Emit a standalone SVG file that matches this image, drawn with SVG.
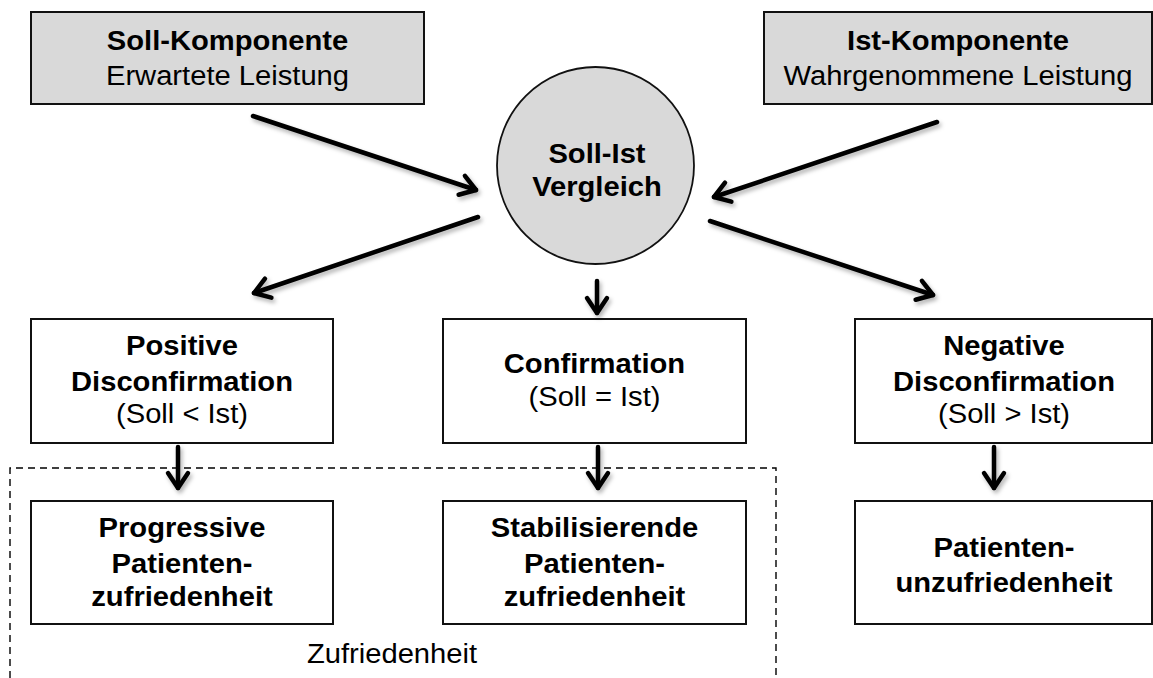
<svg xmlns="http://www.w3.org/2000/svg" width="1153" height="678" viewBox="0 0 1153 678">
<style>
  text { font-family: "Liberation Sans", Arial, sans-serif; font-size: 27px; fill: #000; text-anchor: middle; }
  .b { font-weight: bold; }
  .box { fill: #fff; stroke: #111; stroke-width: 2; }
  .gray { fill: #d9d9d9; stroke: #111; stroke-width: 2; }
  .arrow { fill: none; stroke: #000; stroke-width: 4.5; stroke-linecap: round; marker-end: url(#head); }
  .dash { fill: none; stroke: #000; stroke-width: 1.4; stroke-dasharray: 7 5; }
</style>
<defs>
  <marker id="head" markerUnits="userSpaceOnUse" viewBox="-20 -14 26 28" refX="0" refY="0" markerWidth="26" markerHeight="28" orient="auto" overflow="visible">
    <path d="M-15,-10 L0,0 L-15,10" fill="none" stroke="#000" stroke-width="4.5" stroke-linecap="round" stroke-linejoin="round"/>
  </marker>
  <filter id="sh" x="-20%" y="-20%" width="140%" height="140%">
    <feDropShadow dx="2" dy="3" stdDeviation="2" flood-color="#000" flood-opacity="0.3"/>
  </filter>
</defs>
<rect width="1153" height="678" fill="#fff"/>

<g id="zufriedenheit-group">
  <path class="dash" d="M10,678 L10,468 L776,468 L776,678"/>
  <g transform="matrix(1.08 0 0 1 -31.36 0)"><text x="392" y="663">Zufriedenheit</text></g>
</g>

<g id="soll">
  <rect class="gray" x="31" y="12" width="393" height="92"/>
  <g transform="matrix(1.08 0 0 1 -18.2 0)">
    <text class="b" x="227.5" y="50">Soll-Komponente</text>
    <text x="227.5" y="85">Erwartete Leistung</text>
  </g>
</g>

<g id="ist">
  <rect class="gray" x="764" y="12" width="388" height="92"/>
  <g transform="matrix(1.08 0 0 1 -76.64 0)">
    <text class="b" x="958" y="50">Ist-Komponente</text>
    <text x="958" y="85">Wahrgenommene Leistung</text>
  </g>
</g>

<g id="vergleich">
  <circle cx="595.5" cy="165.5" r="98.5" fill="#d9d9d9" stroke="#111" stroke-width="1.8"/>
  <g transform="matrix(1.08 0 0 1 -47.76 0)">
    <text class="b" x="597" y="163">Soll-Ist</text>
    <text class="b" x="597" y="196">Vergleich</text>
  </g>
</g>

<g id="positive">
  <rect class="box" x="31" y="319" width="302" height="124"/>
  <g transform="matrix(1.08 0 0 1 -14.56 0)">
    <text class="b" x="182" y="355">Positive</text>
    <text class="b" x="182" y="391">Disconfirmation</text>
    <text x="182" y="423">(Soll &lt; Ist)</text>
  </g>
</g>

<g id="confirmation">
  <rect class="box" x="443" y="319" width="303" height="124"/>
  <g transform="matrix(1.08 0 0 1 -47.56 0)">
    <text class="b" x="594.5" y="373">Confirmation</text>
    <text x="594.5" y="406">(Soll = Ist)</text>
  </g>
</g>

<g id="negative">
  <rect class="box" x="855" y="319" width="297" height="124"/>
  <g transform="matrix(1.08 0 0 1 -80.32 0)">
    <text class="b" x="1004" y="355">Negative</text>
    <text class="b" x="1004" y="391">Disconfirmation</text>
    <text x="1004" y="423">(Soll &gt; Ist)</text>
  </g>
</g>

<g id="progressive">
  <rect class="box" x="31" y="501" width="302" height="123"/>
  <g transform="matrix(1.08 0 0 1 -14.56 0)">
    <text class="b" x="182" y="537">Progressive</text>
    <text class="b" x="182" y="573">Patienten-</text>
    <text class="b" x="182" y="606">zufriedenheit</text>
  </g>
</g>

<g id="stabilisierende">
  <rect class="box" x="443" y="501" width="303" height="123"/>
  <g transform="matrix(1.08 0 0 1 -47.56 0)">
    <text class="b" x="594.5" y="537">Stabilisierende</text>
    <text class="b" x="594.5" y="573">Patienten-</text>
    <text class="b" x="594.5" y="606">zufriedenheit</text>
  </g>
</g>

<g id="unzufriedenheit">
  <rect class="box" x="855" y="501" width="297" height="123"/>
  <g transform="matrix(1.08 0 0 1 -80.32 0)">
    <text class="b" x="1004" y="557">Patienten-</text>
    <text class="b" x="1004" y="592">unzufriedenheit</text>
  </g>
</g>

<g id="connectors" filter="url(#sh)">
  <line class="arrow" x1="253" y1="116" x2="476" y2="190"/>
  <line class="arrow" x1="937" y1="122" x2="714" y2="197"/>
  <line class="arrow" x1="478" y1="217" x2="254" y2="293"/>
  <line class="arrow" x1="710" y1="221" x2="933" y2="295"/>
  <line class="arrow" x1="597" y1="281" x2="597" y2="313"/>
  <line class="arrow" x1="178" y1="447" x2="178" y2="488"/>
  <line class="arrow" x1="598" y1="447" x2="598" y2="488"/>
  <line class="arrow" x1="994" y1="447" x2="994" y2="488"/>
</g>
</svg>
